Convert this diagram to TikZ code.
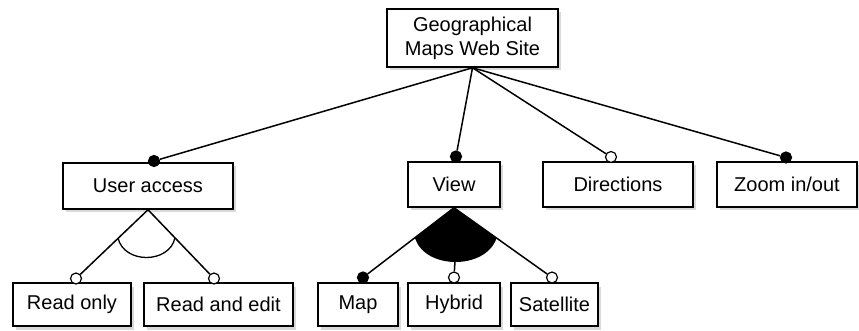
\documentclass[tikz,border=0pt]{standalone}
\usepackage{fontspec}
\setmainfont{Liberation Sans}
\usetikzlibrary{shadows}
\begin{document}
\begin{tikzpicture}[x=1pt,y=-1pt,
  feat/.style={draw=black, line width=1.5pt, fill=white, inner sep=0pt,
    font=\fontsize{20}{24}\selectfont, align=center,
    drop shadow={opacity=0.3, shadow xshift=2.5pt, shadow yshift=-3.5pt}},
  ball/.style={circle, draw=black, line width=1.2pt, inner sep=0pt, minimum size=11pt},
  mand/.style={ball, fill=black},
  opt/.style={ball, fill=white},
  conn/.style={line width=1.5pt}]
\useasboundingbox (0,0) rectangle (859,331);
% nodes
\node[feat, minimum width=171pt, minimum height=58pt] (root) at (472.5,38) {Geographical\\Maps Web Site};
\node[feat, minimum width=170pt, minimum height=46pt] (ua) at (148,186) {User access};
\node[feat, minimum width=92pt, minimum height=45pt] (view) at (454,184.5) {View};
\node[feat, minimum width=150pt, minimum height=45pt] (dir) at (618,184.5) {Directions};
\node[feat, minimum width=140pt, minimum height=45pt] (zoom) at (787,184.5) {Zoom in/out};
\node[feat, minimum width=118pt, minimum height=43pt] (ro) at (72,304.5) {Read only};
\node[feat, minimum width=149pt, minimum height=43pt] (rae) at (218.5,304.5) {Read and edit};
\node[feat, minimum width=80pt, minimum height=43pt] (map) at (358,304.5) {Map};
\node[feat, minimum width=92pt, minimum height=43pt] (hyb) at (454,304.5) {Hybrid};
\node[feat, minimum width=87pt, minimum height=43pt] (sat) at (554.5,304.5) {Satellite};
% balls
\node[mand] (bua) at (154,161) {};
\node[mand] (bview) at (456,156.5) {};
\node[opt] (bdir) at (611,157) {};
\node[mand] (bzoom) at (786,157.5) {};
\node[opt] (bro) at (76,278.5) {};
\node[opt] (brae) at (214,278.5) {};
\node[mand] (bmap) at (363,277.5) {};
\node[opt] (bhyb) at (454,277.5) {};
\node[opt] (bsat) at (552,277.5) {};
% connectors from root
\draw[conn] (root.south) -- (bua);
\draw[conn] (root.south) -- (bview);
\draw[conn] (root.south) -- (bdir);
\draw[conn] (root.south) -- (bzoom);
% user access alternative (or)
\draw[conn] (ua.south) -- (bro);
\draw[conn] (ua.south) -- (brae);
\draw[line width=1.3pt] (118,238) .. controls (124,264) and (169,264) .. (175,238);
% view group (filled)
\coordinate (vb) at (455,261);
\fill[black] (view.south) -- (415,238) .. controls (425,270) and (486,270) .. (496.6,238) -- cycle;
\draw[conn] (view.south) -- (bmap);
\draw[conn] (view.south) -- (bsat);
\draw[conn] (vb) -- (bhyb);
\end{tikzpicture}
\end{document}
